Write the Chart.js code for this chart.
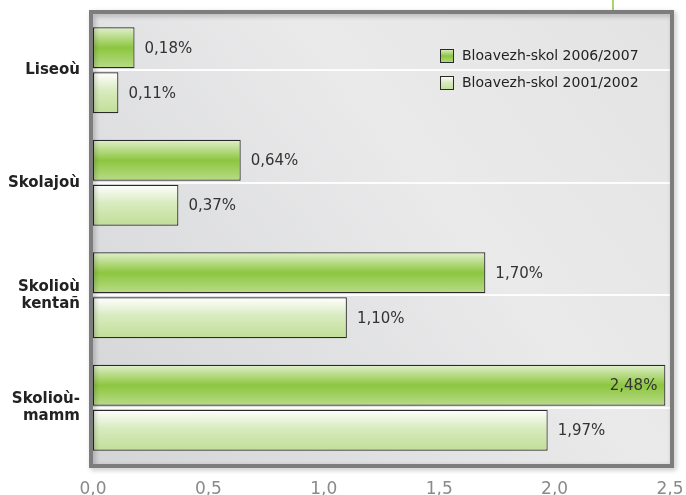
<!DOCTYPE html>
<html lang="br">
<head>
    <meta charset="UTF-8">
    <title>Bloavezh-skol</title>
    <script src="https://cdn.jsdelivr.net/npm/chart.js"></script>
    <style>
        html, body {
            margin: 0;
            padding: 0;
            background: #fff;
        }
        #wrap {
            width: 686px;
            height: 495px;
            position: relative;
        }
    </style>
</head>
<body>
    <div id="wrap"><canvas id="chart"></canvas></div>

    <script>
        // data
        const categories = ['Liseoù', 'Skolajoù', ['Skolioù', 'kentañ'], ['Skolioù-', 'mamm']];
        const seriesNames = ['Bloavezh-skol 2006/2007', 'Bloavezh-skol 2001/2002'];
        const values2006 = [0.18, 0.64, 1.70, 2.48];
        const values2001 = [0.11, 0.37, 1.10, 1.97];
        const xTicks = [0, 0.5, 1.0, 1.5, 2.0, 2.5];

        const CAT_PCT = 0.8;
        const BAR_PCT = 0.91;
        const FONT = 'DejaVu Sans';

        // vertical gradient for each series
        const gradStops = [
            [[0, '#e2f0cd'], [0.5, '#8cc63f'], [1, '#b9db88']],
            [[0, '#ffffff'], [0.45, '#d8ebbf'], [1, '#c1de97']]
        ];

        function fillGradient(ctx, stops, top, h) {
            const g = ctx.createLinearGradient(0, top, 0, top + h);
            stops.forEach(s => g.addColorStop(s[0], s[1]));
            return g;
        }

        function barFill(context) {
            const chart = context.chart;
            const y = chart.scales.y;
            const stops = gradStops[context.datasetIndex];
            if (!y || context.dataIndex === undefined || !chart.chartArea) return stops[1][1];
            const step = y.getPixelForValue(1) - y.getPixelForValue(0);
            const slot = step * CAT_PCT / 2;
            const h = slot * BAR_PCT;
            const top = y.getPixelForValue(context.dataIndex) - slot + context.datasetIndex * slot + (slot - h) / 2;
            return fillGradient(chart.ctx, stops, top, h);
        }

        const fmt = v => v.toFixed(2).replace('.', ',') + '%';

        const decor = {
            id: 'decor',
            beforeDraw(chart) {
                const { ctx, chartArea: a } = chart;
                ctx.save();
                const g = ctx.createLinearGradient(a.left, a.bottom, a.right, a.top);
                g.addColorStop(0, '#d4d5d7');
                g.addColorStop(0.6, '#eaeaeb');
                g.addColorStop(1, '#e3e3e4');
                ctx.fillStyle = g;
                ctx.fillRect(a.left, a.top, a.right - a.left, a.bottom - a.top);
                ctx.restore();
            },
            afterDatasetsDraw(chart) {
                const { ctx, chartArea: a } = chart;
                ctx.save();
                ctx.font = '15px "' + FONT + '"';
                ctx.fillStyle = '#333';
                ctx.textBaseline = 'middle';
                chart.data.datasets.forEach((ds, di) => {
                    chart.getDatasetMeta(di).data.forEach((el, i) => {
                        const txt = fmt(ds.data[i]);
                        const w = ctx.measureText(txt).width;
                        if (el.x + 10 + w > a.right - 4) {
                            ctx.textAlign = 'right';
                            ctx.fillText(txt, el.x - 8, el.y + 1);
                        } else {
                            ctx.textAlign = 'left';
                            ctx.fillText(txt, el.x + 10, el.y + 1);
                        }
                    });
                });
                ctx.restore();
            },
            afterDraw(chart) {
                const { ctx, chartArea: a } = chart;
                ctx.save();

                // little green tick above the frame
                ctx.strokeStyle = '#8cc63f';
                ctx.lineWidth = 1.5;
                ctx.beginPath();
                ctx.moveTo(613, 0);
                ctx.lineTo(613, a.top - 3);
                ctx.stroke();

                // grey frame with a soft shadow
                ctx.shadowColor = 'rgba(0,0,0,0.25)';
                ctx.shadowBlur = 5;
                ctx.shadowOffsetX = 2;
                ctx.shadowOffsetY = 2;
                ctx.strokeStyle = '#7d7d7d';
                ctx.lineWidth = 4;
                ctx.strokeRect(a.left - 2, a.top - 2, a.right - a.left + 4, a.bottom - a.top + 4);
                ctx.shadowColor = 'transparent';

                // legend inside the plot
                const lx = a.right - 230;
                let ly = a.top + 35;
                ctx.font = '14px "' + FONT + '"';
                ctx.textAlign = 'left';
                ctx.textBaseline = 'middle';
                seriesNames.forEach((name, i) => {
                    ctx.fillStyle = fillGradient(ctx, gradStops[i], ly, 14);
                    ctx.fillRect(lx, ly, 14, 14);
                    ctx.strokeStyle = '#2a2a2a';
                    ctx.lineWidth = 1;
                    ctx.strokeRect(lx + 0.5, ly + 0.5, 13, 13);
                    ctx.fillStyle = '#222';
                    ctx.fillText(name, lx + 22, ly + 7.5);
                    ly += 27;
                });
                ctx.restore();
            }
        };

        const barStyle = {
            backgroundColor: barFill,
            borderColor: '#2a2a2a',
            borderWidth: 1.2,
            borderSkipped: false,
            categoryPercentage: CAT_PCT,
            barPercentage: BAR_PCT
        };

        const ctx = document.getElementById('chart').getContext('2d');

        new Chart(ctx, {
            type: 'bar',
            data: {
                labels: categories,
                datasets: [
                    Object.assign({ label: seriesNames[0], data: values2006 }, barStyle),
                    Object.assign({ label: seriesNames[1], data: values2001 }, barStyle)
                ]
            },
            options: {
                indexAxis: 'y',
                responsive: true,
                maintainAspectRatio: false,
                animation: false,
                layout: { padding: { left: 0, right: 16, top: 14, bottom: 0 } },
                plugins: {
                    legend: { display: false },
                    tooltip: { enabled: false }
                },
                scales: {
                    x: {
                        min: 0,
                        max: 2.5,
                        grid: { display: false },
                        border: { display: false },
                        afterBuildTicks(s) { s.ticks = xTicks.map(v => ({ value: v })); },
                        ticks: {
                            color: '#8a8a8a',
                            font: { family: FONT, size: 17 },
                            padding: 7,
                            maxRotation: 0,
                            callback: v => v.toFixed(1).replace('.', ',')
                        },
                        afterFit(s) {
                            s.height = 31;
                            s.paddingLeft = 0;
                            s.paddingRight = 0;
                        }
                    },
                    y: {
                        grid: { offset: false, color: 'rgba(255,255,255,0.9)', lineWidth: 2, drawTicks: false },
                        border: { display: false },
                        ticks: {
                            color: '#222',
                            font: { family: FONT, size: 15, weight: 'bold', lineHeight: 1.15 },
                            padding: 13
                        },
                        afterFit(s) {
                            s.width = 93;
                            s.paddingTop = 0;
                            s.paddingBottom = 0;
                        }
                    }
                }
            },
            plugins: [decor]
        });
    </script>
</body>
</html>
